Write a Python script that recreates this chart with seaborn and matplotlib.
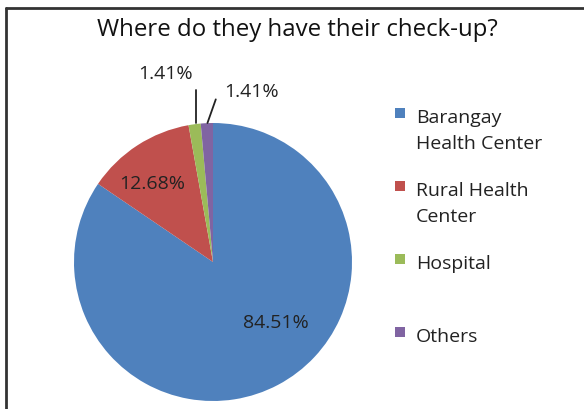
import matplotlib
matplotlib.use("Agg")
import matplotlib.pyplot as plt
from matplotlib.lines import Line2D
from matplotlib.patches import Rectangle
import seaborn as sns

# data
places = ["Barangay\nHealth Center", "Rural Health\nCenter", "Hospital", "Others"]
shares = [84.51, 12.68, 1.41, 1.41]
colors = ["#4F81BD", "#C0504D", "#9BBB59", "#8064A2"]

sns.set_theme(style="white")
plt.rcParams['font.family'] = ['Open Sans', 'DejaVu Sans']

W, H = 584, 409
fig = plt.figure(figsize=(W / 100, H / 100), dpi=100)

# pie centre and radius in pixels
cx, cy, r = 213, 262, 139
ax = fig.add_axes([(cx - r) / W, (H - cy - r) / H, 2 * r / W, 2 * r / H])
wedges, _ = ax.pie(shares, colors=colors, startangle=90, counterclock=False,
                   radius=1, wedgeprops=dict(linewidth=0))
ax.set_xlim(-1, 1)
ax.set_ylim(-1, 1)
ax.set_axis_off()

lab = dict(fontsize=14, color="#222222", ha="center", va="center")
ax.text(0.45, -0.44, "%.2f%%" % shares[0], **lab)
ax.text(-0.44, 0.56, "%.2f%%" % shares[1], **lab)
ax.text(-0.34, 1.35, "%.2f%%" % shares[2], **lab)
ax.text(0.28, 1.22, "%.2f%%" % shares[3], **lab)
# leader lines for the two small slices
ax.plot([-0.12, -0.12], [1.24, 1.0], color="#222222", lw=1.3, clip_on=False)
ax.plot([0.02, -0.04], [1.17, 1.0], color="#222222", lw=1.3, clip_on=False)

fig.text(297 / W, 1 - 30 / H, "Where do they have their check-up?",
         fontsize=17.3, ha="center", va="center", color="#111111")

# legend, Excel style: one slot per entry, square beside first line
for i, (name, c) in enumerate(zip(places, colors)):
    y = 113 + 73 * i
    fig.add_artist(Rectangle((395 / W, 1 - (y + 5) / H), 10 / W, 10 / H,
                             transform=fig.transFigure, facecolor=c,
                             edgecolor="none"))
    fig.text(416 / W, 1 - (y - 4) / H, name, fontsize=14, ha="left",
             va="top", linespacing=1.6, color="#222222")

# chart frame (left and top edges visible)
fig.add_artist(Line2D([6 / W, 6 / W], [0, 1 - 8 / H], color="#333333", lw=2))
fig.add_artist(Line2D([6 / W, 1], [1 - 8 / H, 1 - 8 / H], color="#333333", lw=2))

fig.savefig("out.png", dpi=100)
